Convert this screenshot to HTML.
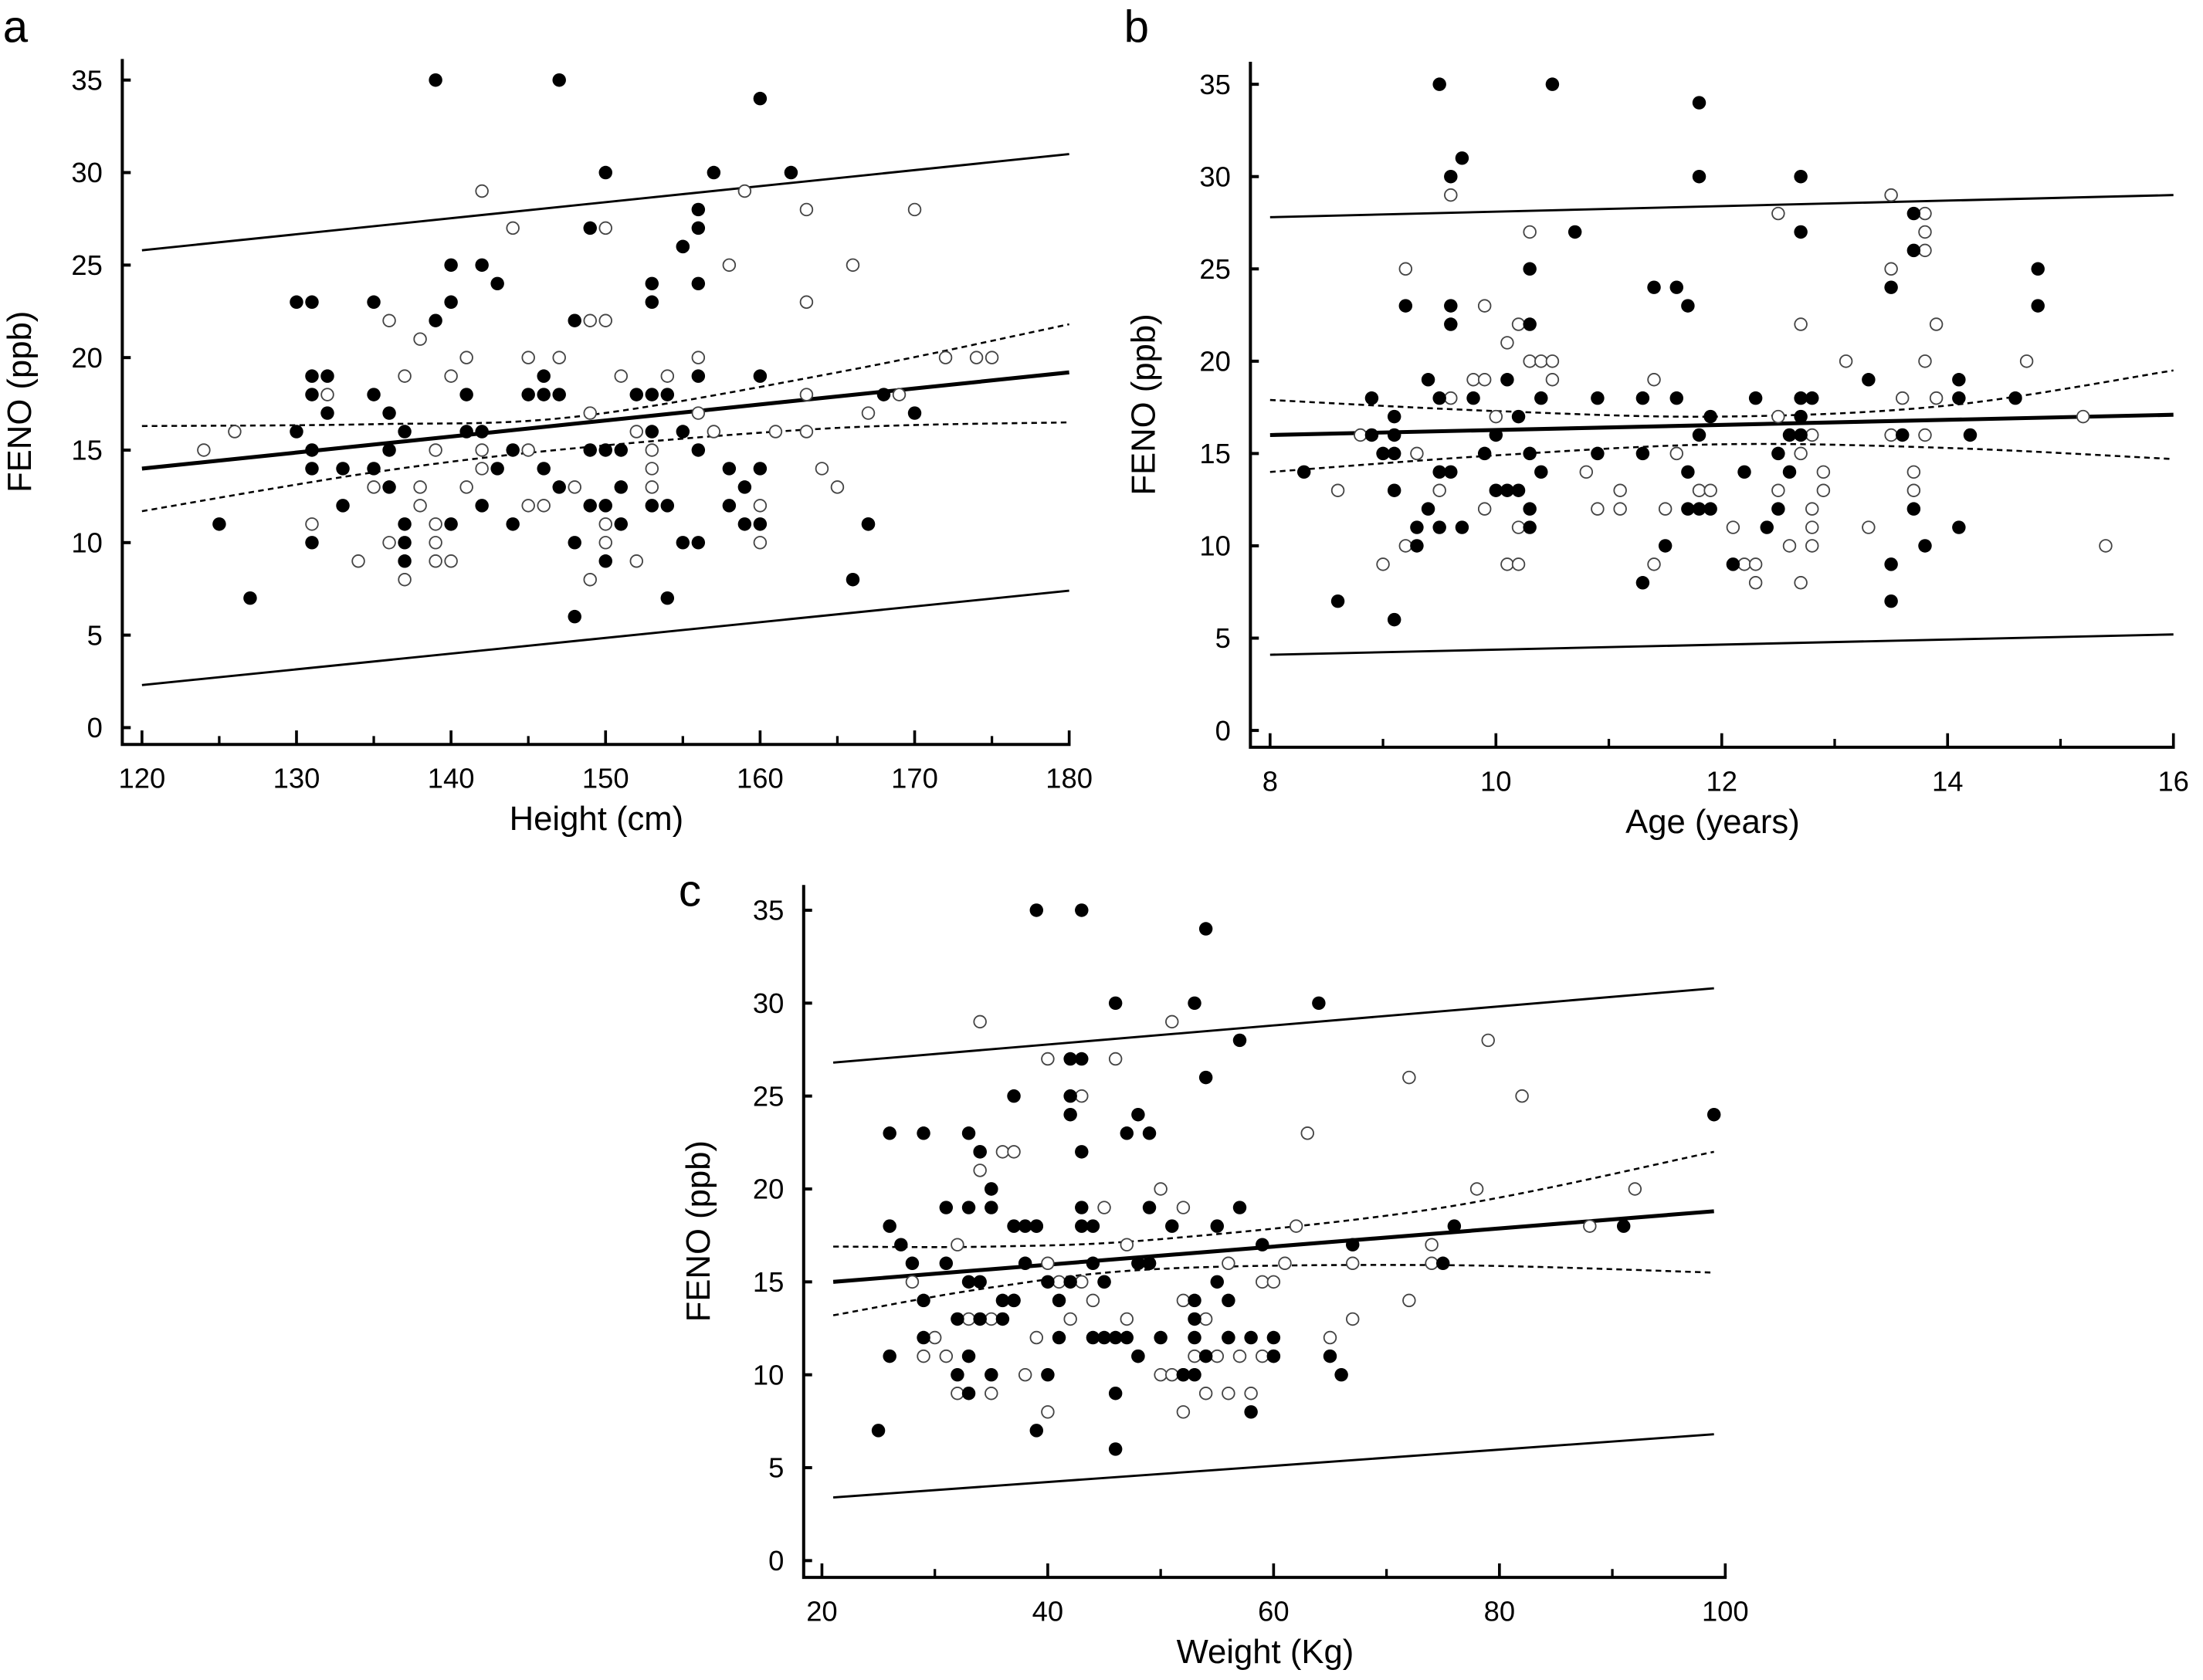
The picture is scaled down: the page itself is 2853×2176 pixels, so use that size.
<!DOCTYPE html>
<html><head><meta charset="utf-8"><style>
html,body{margin:0;padding:0;background:#fff}
svg{display:block}
text{font-family:"Liberation Sans",Arial,sans-serif;fill:#000}
</style></head><body>
<svg id="chart" width="2853" height="2176" viewBox="0 0 1568 1196" xmlns="http://www.w3.org/2000/svg"></svg>
<script>
// ---------- Panel a data (Height) ----------
const aFilled = [[125,11],[127,7],[130,23],[131,23],[130,16],[131,18],[131,19],[132,19],[131,15],[131,14],[131,10],[132,17],[133,12],[133,14],[135,23],[135,18],[135,14],[136,17],[136,15],[136,13],[137,11],[137,9],[137,10],[137,16],[139,35],[139,22],[140,25],[140,23],[140,11],[141,18],[141,16],[142,25],[142,16],[142,12],[143,24],[143,14],[144,15],[144,11],[145,18],[146,19],[146,18],[146,14],[147,35],[147,18],[147,13],[148,22],[148,6],[148,10],[149,27],[149,15],[149,12],[150,30],[150,15],[150,9],[150,12],[151,13],[151,15],[151,11],[152,18],[153,24],[153,23],[153,18],[153,16],[153,12],[154,7],[154,12],[154,18],[155,10],[155,16],[155,26],[156,24],[156,28],[156,27],[156,19],[156,15],[156,10],[157,30],[158,14],[158,12],[159,13],[159,11],[160,34],[160,14],[160,11],[160,19],[162,30],[166,8],[167,11],[168,18],[170,17]];
const aOpen = [[124,15],[126,16],[131,11],[132,18],[134,9],[135,13],[136,22],[136,10],[137,19],[137,8],[138,21],[138,12],[138,13],[139,10],[139,9],[139,15],[139,11],[140,19],[140,9],[141,20],[141,13],[142,29],[142,15],[142,14],[144,27],[145,20],[145,15],[145,12],[146,12],[147,20],[148,13],[149,17],[149,22],[150,22],[149,8],[150,11],[150,10],[150,27],[151,19],[152,9],[152,16],[153,15],[153,14],[153,13],[154,19],[155,26],[156,20],[156,17],[157,16],[158,25],[159,29],[160,12],[160,10],[161,16],[163,28],[163,23],[163,18],[163,16],[164,14],[165,13],[166,25],[167,11],[167,17],[169,18],[170,28],[172,20],[174,20],[175,20]];
const aLineX = [120,180];
const aReg = [14.0,19.2];
const aUpper = [25.8,31.0];
const aLower = [2.3,7.4];
const aCiX = [120,135,148,165,180];
const aCiUp = [16.3,16.4,16.8,19.2,21.8];
const aCiLo = [11.7,13.8,15.1,16.2,16.5];
const aXTicks = [120,130,140,150,160,170,180];

// ---------- Panel b data (Age) ----------
const bFilled = [[8.3,14],[8.6,7],[8.9,18],[8.9,16],[9.0,15],[9.1,16],[9.1,15],[9.1,17],[9.1,13],[9.1,6],[9.2,23],[9.3,11],[9.3,10],[9.4,12],[9.4,19],[9.5,35],[9.5,18],[9.5,14],[9.5,11],[9.6,30],[9.6,23],[9.6,22],[9.6,14],[9.7,31],[9.7,11],[9.8,18],[9.9,15],[10.0,16],[10.0,13],[10.1,19],[10.1,13],[10.2,13],[10.2,17],[10.3,25],[10.3,22],[10.3,12],[10.3,11],[10.3,15],[10.4,18],[10.4,14],[10.5,35],[10.7,27],[10.9,18],[10.9,15],[11.3,8],[11.3,15],[11.3,18],[11.4,24],[11.5,10],[11.6,24],[11.6,18],[11.7,23],[11.7,14],[11.7,12],[11.8,34],[11.8,30],[11.8,12],[11.8,16],[11.9,17],[11.9,12],[12.1,9],[12.2,14],[12.3,18],[12.4,11],[12.5,12],[12.5,15],[12.6,14],[12.6,16],[12.7,30],[12.7,27],[12.7,18],[12.7,17],[12.7,16],[12.8,18],[13.3,19],[13.5,24],[13.5,9],[13.5,7],[13.6,16],[13.7,28],[13.7,26],[13.7,12],[13.8,10],[14.1,19],[14.1,18],[14.1,11],[14.2,16],[14.6,18],[14.8,25],[14.8,23]];
const bOpen = [[8.6,13],[8.8,16],[9.0,9],[9.2,25],[9.2,10],[9.3,15],[9.5,13],[9.6,29],[9.6,18],[9.9,23],[9.8,19],[9.9,19],[9.9,12],[10.0,17],[10.1,21],[10.1,9],[10.2,9],[10.2,22],[10.2,11],[10.3,27],[10.3,20],[10.4,20],[10.5,20],[10.5,19],[10.8,14],[10.9,12],[11.1,13],[11.1,12],[11.4,19],[11.4,9],[11.5,12],[11.6,15],[11.8,13],[11.9,13],[12.1,11],[12.2,9],[12.3,8],[12.3,9],[12.5,28],[12.5,17],[12.5,13],[12.6,10],[12.7,22],[12.7,15],[12.7,8],[12.8,16],[12.8,12],[12.8,11],[12.8,10],[12.9,14],[12.9,13],[13.1,20],[13.3,11],[13.5,29],[13.5,25],[13.5,16],[13.6,18],[13.7,14],[13.7,13],[13.8,28],[13.8,27],[13.8,26],[13.8,20],[13.8,16],[13.9,22],[13.9,18],[14.7,20],[15.2,17],[15.4,10]];
const bLineX = [8,16];
const bReg = [16.0,17.1];
const bUpper = [27.8,29.0];
const bLower = [4.1,5.2];
const bCiX = [8,10,12,14,16];
const bCiUp = [17.9,17.3,17.0,17.6,19.5];
const bCiLo = [14.0,14.9,15.5,15.3,14.7];
const bXTicks = [8,10,12,14,16];

// ---------- Panel c data (Weight) ----------
const cFilled = [[25,7],[26,23],[26,18],[26,11],[27,17],[28,16],[29,23],[29,14],[29,12],[31,19],[31,16],[32,10],[32,13],[33,23],[33,19],[33,15],[33,11],[33,9],[34,15],[34,13],[34,22],[35,20],[35,19],[35,10],[36,13],[36,14],[37,18],[37,25],[37,14],[38,18],[38,16],[39,35],[39,7],[39,18],[40,10],[40,15],[41,14],[41,12],[42,24],[42,15],[42,25],[43,35],[43,27],[42,27],[43,22],[43,19],[43,18],[44,16],[44,12],[44,18],[45,15],[45,12],[46,30],[46,12],[46,6],[46,9],[47,23],[47,12],[48,24],[48,11],[48,16],[49,23],[49,19],[49,16],[50,12],[51,18],[52,10],[53,30],[53,14],[53,13],[53,10],[53,12],[54,26],[54,34],[54,11],[55,18],[55,15],[56,12],[56,14],[57,28],[57,19],[58,8],[58,12],[59,17],[60,12],[60,11],[64,30],[65,11],[66,10],[67,17],[75,16],[76,18],[91,18],[99,24]];
const cOpen = [[28,15],[29,11],[30,12],[31,11],[32,17],[32,9],[33,13],[34,29],[34,21],[34,22],[35,20],[35,9],[35,13],[36,22],[37,22],[37,14],[38,10],[39,18],[39,12],[40,27],[40,8],[40,16],[41,15],[42,13],[43,15],[43,25],[44,14],[45,19],[45,15],[46,27],[47,17],[47,13],[48,11],[48,16],[49,16],[50,10],[50,20],[51,29],[51,10],[52,19],[52,10],[52,14],[52,8],[53,11],[54,13],[54,9],[55,11],[56,16],[56,12],[56,9],[57,11],[58,9],[59,15],[59,11],[60,15],[60,11],[61,16],[62,18],[63,23],[65,12],[67,16],[67,13],[72,26],[72,14],[74,17],[74,16],[78,20],[79,28],[82,25],[88,18],[92,20]];
const cLineX = [21,99];
const cReg = [15.0,18.8];
const cUpper = [26.8,30.8];
const cLower = [3.4,6.8];
const cCiX = [21,35,50,75,99];
const cCiUp = [16.9,16.9,17.3,19.0,22.0];
const cCiLo = [13.2,14.7,15.7,15.9,15.5];
const cXTicks = [20,40,60,80,100];

const yTicks = [0,5,10,15,20,25,30,35];

const NS = "http://www.w3.org/2000/svg";
const svg = document.getElementById('chart');
function mk(tag, attrs, parent){
  const e = document.createElementNS(NS, tag);
  for (const k in attrs) e.setAttribute(k, attrs[k]);
  (parent||svg).appendChild(e);
  return e;
}
function smoothPath(pts){
  let d = "M"+pts[0][0]+","+pts[0][1];
  for (let i=0;i<pts.length-1;i++){
    const p0=pts[Math.max(i-1,0)], p1=pts[i], p2=pts[i+1], p3=pts[Math.min(i+2,pts.length-1)];
    const c1=[p1[0]+(p2[0]-p0[0])/6, p1[1]+(p2[1]-p0[1])/6];
    const c2=[p2[0]-(p3[0]-p1[0])/6, p2[1]-(p3[1]-p1[1])/6];
    d += " C"+c1[0]+","+c1[1]+" "+c2[0]+","+c2[1]+" "+p2[0]+","+p2[1];
  }
  return d;
}

function panel(cfg){
  const g = mk('g', {});
  
  
  const sx = v => cfg.px0 + (v - cfg.x0) * (cfg.px1 - cfg.px0) / (cfg.x1 - cfg.x0);
  const sy = v => cfg.py0 + v * (cfg.py35 - cfg.py0) / 35;
  // axes
  const ax = mk('path', {d:`M${cfg.axX},${cfg.axTop} L${cfg.axX},${cfg.axY} L${cfg.axRight},${cfg.axY}`, fill:'none', stroke:'#000', 'stroke-width':2.2}, g);
  
  
  // y ticks
  yTicks.forEach((t,i) => {
    const y = sy(t);
    mk('line', {x1:cfg.axX, x2:cfg.axX+6, y1:y, y2:y, stroke:'#000','stroke-width':2.2}, g);
    const lb = mk('text', {x:cfg.axX-14, y:y+7, 'text-anchor':'end','font-size':20}, g);
    lb.textContent = t;
    
    
  });
  // x ticks
  cfg.xTicks.forEach((t,i) => {
    const x = sx(t);
    mk('line', {x1:x, x2:x, y1:cfg.axY, y2:cfg.axY-10, stroke:'#000','stroke-width':2}, g);
    if (i < cfg.xTicks.length-1){
      const xm = sx((t + cfg.xTicks[i+1]) / 2);
      mk('line', {x1:xm, x2:xm, y1:cfg.axY, y2:cfg.axY-6, stroke:'#000','stroke-width':1.8}, g);
    }
    const lb = mk('text', {x:x, y:cfg.axY+31, 'text-anchor':'middle','font-size':20}, g);
    lb.textContent = t;
    
    
  });
  // labels
  const xl = mk('text', {x:(cfg.axX+cfg.axRight)/2, y:cfg.axY+61, 'text-anchor':'middle','font-size':24}, g);
  xl.textContent = cfg.xLabel;
  
  
  const ymid = (cfg.axTop+cfg.axY)/2;
  const yl = mk('text', {x:cfg.yLabelX, y:ymid, 'text-anchor':'middle','font-size':24, transform:`rotate(-90 ${cfg.yLabelX} ${ymid})`}, g);
  yl.textContent = 'FENO (ppb)';
  
  
  const pl = mk('text', {x:cfg.letterX, y:cfg.letterY, 'font-size':32}, g);
  pl.textContent = cfg.letter;
  
  
  // lines
  const line = (ys, w, nm) => {
    const l = mk('line', {x1:sx(cfg.lineX[0]), x2:sx(cfg.lineX[1]), y1:sy(ys[0]), y2:sy(ys[1]), stroke:'#000','stroke-width':w}, g);
    
    
  };
  line(cfg.upper, 1.6, 'upper-prediction-limit');
  line(cfg.lower, 1.6, 'lower-prediction-limit');
  line(cfg.reg, 2.8, 'regression-line');
  const ci = (vals, nm) => {
    const p = mk('path', {d:smoothPath(cfg.ciX.map((x,i)=>[sx(x), sy(vals[i])])), fill:'none', stroke:'#000','stroke-width':1.4,'stroke-dasharray':'4,3'}, g);
    
    
  };
  ci(cfg.ciUp, 'upper-confidence-band');
  ci(cfg.ciLo, 'lower-confidence-band');
  // points
  cfg.open.forEach(p => {
    const c = mk('circle', {cx:sx(p[0]), cy:sy(p[1]), r:4.3, fill:'#fff', stroke:'#444','stroke-width':1}, g);
    
    
  });
  cfg.filled.forEach(p => {
    const c = mk('circle', {cx:sx(p[0]), cy:sy(p[1]), r:4.8, fill:'#000'}, g);
    
    
  });
}

panel({name:'panel-a-height', letter:'a', letterX:2, letterY:30, yLabelX:22,
  x0:120, x1:180, px0:101, px1:761, py0:518, py35:57,
  axX:87, axY:530, axTop:42, axRight:762, xTicks:aXTicks, xLabel:'Height (cm)',
  filled:aFilled, open:aOpen, lineX:aLineX, reg:aReg, upper:aUpper, lower:aLower,
  ciX:aCiX, ciUp:aCiUp, ciLo:aCiLo});
panel({name:'panel-b-age', letter:'b', letterX:800, letterY:30, yLabelX:822,
  x0:8, x1:16, px0:904, px1:1547, py0:520, py35:60,
  axX:890, axY:532, axTop:44, axRight:1548, xTicks:bXTicks, xLabel:'Age (years)',
  filled:bFilled, open:bOpen, lineX:bLineX, reg:bReg, upper:bUpper, lower:bLower,
  ciX:bCiX, ciUp:bCiUp, ciLo:bCiLo});
panel({name:'panel-c-weight', letter:'c', letterX:483, letterY:645, yLabelX:505,
  x0:20, x1:100, px0:585, px1:1228, py0:1111, py35:648,
  axX:572, axY:1123, axTop:630, axRight:1229, xTicks:cXTicks, xLabel:'Weight (Kg)',
  filled:cFilled, open:cOpen, lineX:cLineX, reg:cReg, upper:cUpper, lower:cLower,
  ciX:cCiX, ciUp:cCiUp, ciLo:cCiLo});
</script>
</body></html>
